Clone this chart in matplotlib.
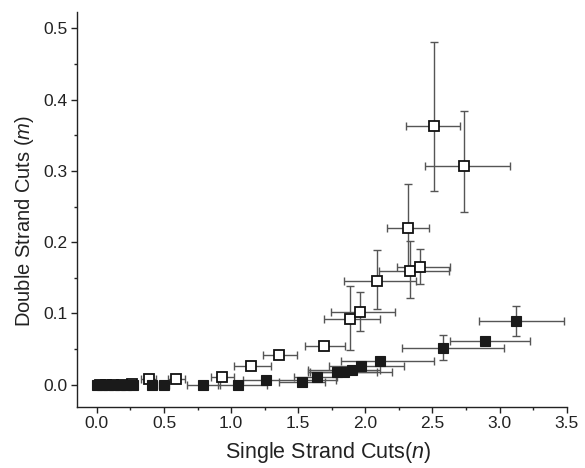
import matplotlib
matplotlib.use("Agg")
import matplotlib.pyplot as plt
from matplotlib.ticker import MultipleLocator, FormatStrFormatter

plt.rcParams['font.family'] = ['Liberation Sans', 'DejaVu Sans']
plt.rcParams['mathtext.fontset'] = 'custom'
plt.rcParams['mathtext.rm'] = 'Liberation Sans'
plt.rcParams['mathtext.it'] = 'Liberation Sans:italic'

# Open squares
n_open = [0.02, 0.07, 0.12, 0.19, 0.26, 0.39, 0.59, 0.93, 1.15, 1.36, 1.69,
          1.885, 1.957, 2.084, 2.335, 2.407, 2.315, 2.509, 2.735]
m_open = [0.0, 0.0, 0.0, 0.0, 0.001, 0.008, 0.008, 0.0105, 0.0256, 0.041, 0.054,
          0.092, 0.1025, 0.1455, 0.160, 0.165, 0.220, 0.363, 0.307]
n_open_lo = [0.03, 0.03, 0.03, 0.03, 0.04, 0.06, 0.06, 0.08, 0.127, 0.12, 0.14,
             0.196, 0.216, 0.243, 0.235, 0.174, 0.156, 0.209, 0.291]
n_open_hi = [0.03, 0.03, 0.03, 0.03, 0.04, 0.05, 0.066, 0.09, 0.147, 0.13, 0.16,
             0.224, 0.263, 0.293, 0.285, 0.223, 0.159, 0.198, 0.342]
m_open_lo = [0.001, 0.001, 0.001, 0.001, 0.001, 0.002, 0.003, 0.004, 0.003, 0.004, 0.006,
             0.044, 0.027, 0.040, 0.039, 0.024, 0.062, 0.091, 0.065]
m_open_hi = [0.001, 0.001, 0.001, 0.001, 0.001, 0.002, 0.003, 0.004, 0.003, 0.004, 0.006,
             0.047, 0.027, 0.044, 0.041, 0.025, 0.061, 0.118, 0.077]

# Filled squares
n_fill = [0.0, 0.04, 0.08, 0.13, 0.17, 0.22, 0.27, 0.41, 0.50, 0.79, 1.05, 1.26,
          1.53, 1.64, 1.79, 1.84, 1.90, 1.97, 2.11, 2.58, 2.89, 3.12]
m_fill = [0.0, 0.0, 0.0, 0.0, 0.0, 0.0, 0.0, 0.0, 0.0, 0.0, 0.0, 0.007,
          0.004, 0.011, 0.0175, 0.018, 0.020, 0.0255, 0.033, 0.051, 0.061, 0.089]
n_fill_lo = [0.02, 0.02, 0.02, 0.02, 0.02, 0.02, 0.02, 0.03, 0.04, 0.12, 0.15, 0.17,
             0.17, 0.17, 0.22, 0.25, 0.33, 0.24, 0.29, 0.31, 0.26, 0.27]
n_fill_hi = [0.02, 0.02, 0.02, 0.02, 0.02, 0.02, 0.02, 0.03, 0.04, 0.13, 0.22, 0.52,
             0.17, 0.15, 0.41, 0.25, 0.21, 0.32, 0.40, 0.45, 0.34, 0.36]
m_fill_lo = [0.0, 0.0, 0.0, 0.0, 0.0, 0.0, 0.0, 0.0, 0.0, 0.0, 0.0, 0.002,
             0.002, 0.002, 0.002, 0.002, 0.002, 0.003, 0.004, 0.016, 0.003, 0.021]
m_fill_hi = [0.0, 0.0, 0.0, 0.0, 0.0, 0.0, 0.0, 0.0, 0.0, 0.0, 0.0, 0.002,
             0.002, 0.002, 0.002, 0.002, 0.002, 0.003, 0.004, 0.018, 0.003, 0.021]

fig = plt.figure(figsize=(5.85, 4.68), dpi=100)
ax = fig.add_axes([0.131, 0.131, 0.8377, 0.844])

errcol = '#555555'
ax.errorbar(n_open, m_open, xerr=[n_open_lo, n_open_hi], yerr=[m_open_lo, m_open_hi],
            fmt='none', ecolor=errcol, elinewidth=1.0, capsize=2.8, capthick=1.0, zorder=2)
ax.errorbar(n_fill, m_fill, xerr=[n_fill_lo, n_fill_hi], yerr=[m_fill_lo, m_fill_hi],
            fmt='none', ecolor=errcol, elinewidth=1.0, capsize=2.8, capthick=1.0, zorder=2)
ax.plot(n_open, m_open, 's', ms=7, mfc='white', mec='#111111', mew=1.3,
        linestyle='none', zorder=3)
ax.plot(n_fill, m_fill, 's', ms=7.5, mfc='#1a1a1a', mec='#1a1a1a', mew=0.8,
        linestyle='none', zorder=4)

ax.set_xlim(-0.151, 3.5)
ax.set_ylim(-0.031, 0.5235)
ax.xaxis.set_major_locator(MultipleLocator(0.5))
ax.xaxis.set_minor_locator(MultipleLocator(0.25))
ax.yaxis.set_major_locator(MultipleLocator(0.1))
ax.yaxis.set_minor_locator(MultipleLocator(0.05))
ax.xaxis.set_major_formatter(FormatStrFormatter('%.1f'))
ax.yaxis.set_major_formatter(FormatStrFormatter('%.1f'))

for side in ['top', 'right']:
    ax.spines[side].set_visible(False)
for side in ['left', 'bottom']:
    ax.spines[side].set_linewidth(1.0)
    ax.spines[side].set_color('#222222')

ax.tick_params(which='major', direction='out', length=4, width=1.0, labelsize=12.5,
               color='#222222', labelcolor='#222222', pad=2.5)
ax.tick_params(which='minor', direction='out', length=2.5, width=1.0, color='#222222')

ax.set_xlabel('Single Strand Cuts($\\it{n}$)', fontsize=15.5, color='#222222', labelpad=7)
ax.set_ylabel('Double Strand Cuts ($\\it{m}$)', fontsize=14.5, color='#222222', labelpad=5)
ax.xaxis.label.set_x(0.513)
ax.yaxis.label.set_y(0.47)

fig.savefig('out.png', dpi=100)
